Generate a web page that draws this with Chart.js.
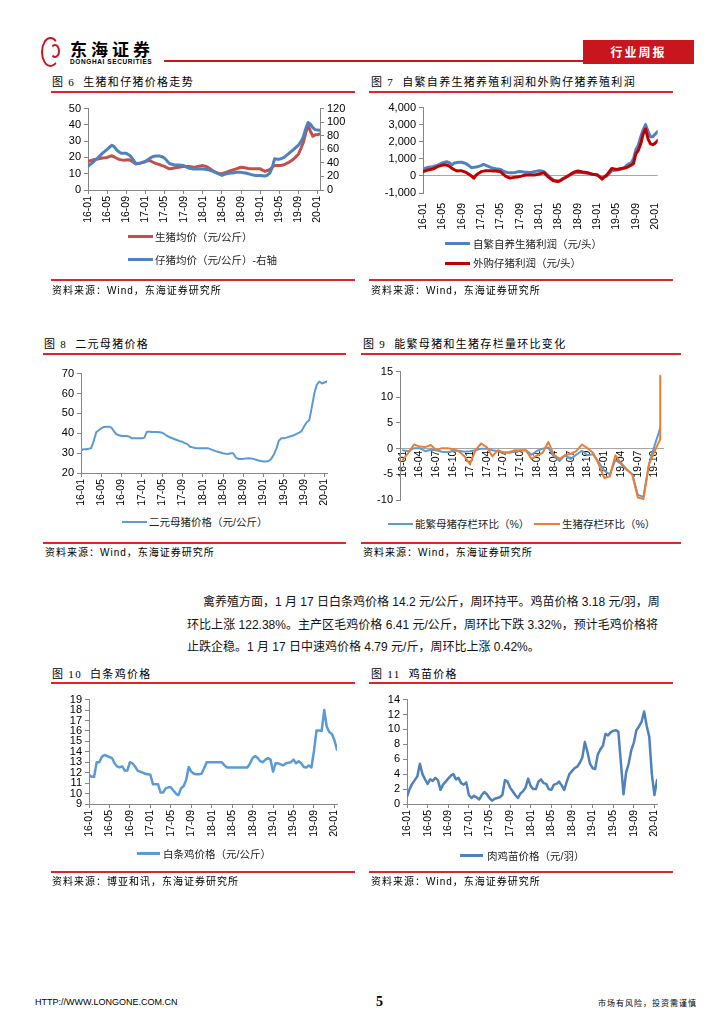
<!DOCTYPE html>
<html><head><meta charset="utf-8">
<script src="https://cdn.jsdelivr.net/npm/chart.js@4.4.1/dist/chart.umd.min.js"></script>
<style>
html,body{margin:0;padding:0;background:#fff}
body{width:724px;height:1024px;position:relative;overflow:hidden;font-family:"Liberation Sans","Noto Sans CJK SC",sans-serif;color:#000}
.a{position:absolute;white-space:nowrap}
.ttl{position:absolute;white-space:nowrap;font-size:11px;line-height:12px;letter-spacing:1.3px;font-family:"Liberation Serif","Noto Sans CJK SC",serif}
.src{position:absolute;white-space:nowrap;font-size:10px;line-height:11px;letter-spacing:1px;font-family:"Liberation Sans","Noto Sans CJK SC",sans-serif}
.lg{position:absolute;white-space:nowrap;font-size:10.5px;line-height:12px;font-family:"Liberation Sans","Noto Sans CJK SC",sans-serif;color:#222}
.rl{position:absolute;height:2px;background:#E0242B}
.ll{position:absolute;height:3px}
.cvw{position:absolute}
.p{position:absolute;white-space:nowrap;font-size:12px;line-height:14px;font-family:"Liberation Sans","Noto Sans CJK SC",sans-serif;color:#111}
</style></head><body>

<!-- header -->
<div class="a" style="left:41px;top:37px;width:15px;height:26px;border:2px solid #C9151E;border-radius:50%;border-right-color:transparent;"></div>
<div class="a" style="left:50px;top:44px;width:6px;height:10px;border:2px solid #C9151E;border-radius:50%;border-left-color:transparent;"></div>
<div class="a" style="left:70px;top:40px;font:bold 17px/18px 'Noto Sans CJK SC';letter-spacing:4px">东海证券</div>
<div class="a" style="left:70px;top:58px;font:bold 6.5px/7px 'Liberation Sans';letter-spacing:0.6px">DONGHAI SECURITIES</div>
<div class="a" style="left:164px;top:60px;width:419px;height:1.5px;background:#C9151E"></div>
<div class="a" style="left:583px;top:40px;width:111px;height:24px;background:#C9151E;color:#fff;font:bold 12px/24px 'Noto Sans CJK SC';text-align:center;letter-spacing:2px">行业周报</div>

<!-- chart 6 -->
<div class="ttl" style="left:52px;top:76px">图 6&nbsp; 生猪和仔猪价格走势</div>
<div class="rl" style="left:51px;top:91px;width:304px"></div>
<div class="cvw" style="left:40px;top:99px;width:320px;height:136px"><canvas id="c6"></canvas></div>
<div class="ll" style="left:128px;top:235px;width:25px;background:#C0504D"></div>
<div class="lg" style="left:155px;top:231px">生猪均价（元/公斤）</div>
<div class="ll" style="left:128px;top:258px;width:25px;background:#4F81BD"></div>
<div class="lg" style="left:155px;top:254px">仔猪均价（元/公斤）-右轴</div>
<div class="rl" style="left:51px;top:279px;width:304px"></div>
<div class="src" style="left:52px;top:285px">资料来源：Wind，东海证券研究所</div>

<!-- chart 7 -->
<div class="ttl" style="left:371px;top:76px">图 7&nbsp; 自繁自养生猪养殖利润和外购仔猪养殖利润</div>
<div class="rl" style="left:369px;top:91px;width:304px"></div>
<div class="cvw" style="left:360px;top:98px;width:310px;height:140px"><canvas id="c7"></canvas></div>
<div class="ll" style="left:445px;top:242px;width:25px;background:#4F81BD"></div>
<div class="lg" style="left:473px;top:238px">自繁自养生猪利润（元/头）</div>
<div class="ll" style="left:445px;top:262px;width:25px;background:#C00000"></div>
<div class="lg" style="left:473px;top:257px">外购仔猪利润（元/头）</div>
<div class="rl" style="left:369px;top:279px;width:304px"></div>
<div class="src" style="left:371px;top:285px">资料来源：Wind，东海证券研究所</div>

<!-- chart 8 -->
<div class="ttl" style="left:44px;top:338px">图 8&nbsp; 二元母猪价格</div>
<div class="rl" style="left:43px;top:353px;width:303px"></div>
<div class="cvw" style="left:40px;top:364px;width:300px;height:150px"><canvas id="c8"></canvas></div>
<div class="ll" style="left:122px;top:521px;width:25px;height:2px;background:#5B9BD5"></div>
<div class="lg" style="left:149px;top:516px">二元母猪价格（元/公斤）</div>
<div class="rl" style="left:43px;top:542px;width:303px"></div>
<div class="src" style="left:45px;top:547px">资料来源：Wind，东海证券研究所</div>

<!-- chart 9 -->
<div class="ttl" style="left:363px;top:338px">图 9&nbsp; 能繁母猪和生猪存栏量环比变化</div>
<div class="rl" style="left:361px;top:353px;width:320px"></div>
<div class="cvw" style="left:360px;top:362px;width:310px;height:148px"><canvas id="c9"></canvas></div>
<div class="ll" style="left:388px;top:523px;width:25px;height:2px;background:#5B9BD5"></div>
<div class="lg" style="left:415px;top:518px">能繁母猪存栏环比（%）</div>
<div class="ll" style="left:534px;top:523px;width:26px;height:2px;background:#ED7D31"></div>
<div class="lg" style="left:562px;top:518px">生猪存栏环比（%）</div>
<div class="rl" style="left:361px;top:542px;width:320px"></div>
<div class="src" style="left:363px;top:547px">资料来源：Wind，东海证券研究所</div>

<!-- paragraph -->
<div class="p" style="left:203px;top:595px;width:455px;text-align:justify;text-align-last:justify">禽养殖方面，1 月 17 日白条鸡价格 14.2 元/公斤，周环持平。鸡苗价格 3.18 元/羽，周</div>
<div class="p" style="left:187px;top:618px;width:471px;text-align:justify;text-align-last:justify">环比上涨 122.38%。主产区毛鸡价格 6.41 元/公斤，周环比下跌 3.32%，预计毛鸡价格将</div>
<div class="p" style="left:187px;top:640px">止跌企稳。1 月 17 日中速鸡价格 4.79 元/斤，周环比上涨 0.42%。</div>

<!-- chart 10 -->
<div class="ttl" style="left:52px;top:668px">图 10&nbsp; 白条鸡价格</div>
<div class="rl" style="left:51px;top:682px;width:304px"></div>
<div class="cvw" style="left:40px;top:690px;width:310px;height:160px"><canvas id="c10"></canvas></div>
<div class="ll" style="left:137px;top:852px;width:23px;background:#5B9BD5"></div>
<div class="lg" style="left:163px;top:848px">白条鸡价格（元/公斤）</div>
<div class="rl" style="left:51px;top:871px;width:304px"></div>
<div class="src" style="left:52px;top:876px">资料来源：博亚和讯，东海证券研究所</div>

<!-- chart 11 -->
<div class="ttl" style="left:371px;top:668px">图 11&nbsp; 鸡苗价格</div>
<div class="rl" style="left:369px;top:682px;width:304px"></div>
<div class="cvw" style="left:360px;top:690px;width:310px;height:160px"><canvas id="c11"></canvas></div>
<div class="ll" style="left:460px;top:854px;width:23px;background:#4F81BD"></div>
<div class="lg" style="left:487px;top:850px">肉鸡苗价格（元/羽）</div>
<div class="rl" style="left:369px;top:871px;width:304px"></div>
<div class="src" style="left:371px;top:876px">资料来源：Wind，东海证券研究所</div>

<!-- footer -->
<div class="a" style="left:35px;top:997px;font:9px/10px 'Liberation Sans'">HTTP://WWW.LONGONE.COM.CN</div>
<div class="a" style="left:376px;top:994px;font:bold 14px/15px 'Liberation Serif'">5</div>
<div class="a" style="left:598px;top:998px;font:8px/9px 'Noto Sans CJK SC';letter-spacing:1px">市场有风险，投资需谨慎</div>

<script>
// ---------- data ----------
const monthTicks = ['16-01','16-05','16-09','17-01','17-05','17-09','18-01','18-05','18-09','19-01','19-05','19-09','20-01'];

// semi-monthly series, 2016-01 .. 2020-01 (second half)
const hogPrice = [
 17.5,18,18.5,18.8,19,19.3,19.7,19.8,20,20.6,
 21,20.3,19.5,18.8,18.5,18.3,18.5,18.6,18,17,
 16,16.2,16.5,17,17.5,18,18,17.2,16.5,16,
 15.5,15,14.5,13.7,13,13.2,13.5,13.8,14,14.3,
 14.5,14.5,14.5,14.3,14,14.2,14.5,14.8,15,14.6,
 14,13,12,11.2,10.5,10.2,10,10.5,11,11.5,
 12,12.5,13,13.5,14,13.8,13.5,13.2,13,13,
 13,13,13,12.2,11.5,12,12.5,14,15,15,
 15,15.2,15.5,16.3,17,18,19,20.5,22,25.5,
 29,35,40,36,33,34,34,34.5];
const pigletPrice = [
 35,38,40.6,44,47,50.5,54,57,60,63,
 66,63.6,59,56,54,54,54,52,49,44,
 39,39.5,40,41,42,44.5,47,49,50,50,
 50,49,47,43,39,38,37,37,37,36.5,
 36,34,32.5,31.5,31,31,31,31,31,30.5,
 30,29,28,26.5,25,23,21.5,23,24,24.5,
 25,25.5,26,26,26,25.5,25,24,23,22,
 21.5,21.5,21.5,21,20.5,22,25,33,46,45.5,
 45.5,46.5,48,51,54,57,60,63,66,71,
 78,90,99.5,97,92,89,88.5,88];
const selfProfit = [
 400,450,500,520,540,580,620,690,760,800,
 830,760,650,760,790,800,800,760,700,600,
 480,500,520,560,600,680,620,560,500,450,
 420,400,380,300,230,200,180,190,200,240,
 260,240,220,210,200,220,250,280,300,290,
 250,120,0,-150,-250,-280,-300,-250,-150,-80,
 0,80,150,180,200,200,200,170,150,120,
 100,80,50,-50,-100,-50,0,150,300,330,
 350,380,400,450,600,700,750,1000,1550,1800,
 2300,2700,3000,2600,2300,2300,2450,2600];
const buyProfit = [
 250,300,350,380,400,470,540,590,630,650,
 630,550,440,360,290,300,300,250,190,100,
 0,-130,60,150,250,280,300,300,300,290,
 290,270,250,120,0,-80,-130,-100,-80,-60,
 -40,0,40,50,60,60,60,80,110,150,
 190,50,-80,-200,-290,-310,-330,-250,-150,-80,
 0,100,190,250,290,260,230,210,190,140,
 100,80,60,-60,-190,-50,60,250,440,410,
 380,410,440,460,480,550,630,730,1300,1500,
 1880,2460,2750,2170,1880,1830,1920,2080];
const sowPrice = [
 31.2,32,32,32.2,32.5,36,40.5,41.5,42.5,43.2,
 43.3,43.3,42.8,41,39.5,39,38.6,38.6,38.6,38.3,
 37.5,37.5,37.5,37.5,37.5,37.8,40.8,40.8,40.6,40.6,
 40.6,40.5,40.3,39.5,38.6,38,37.5,37,36.5,36,
 35.7,35,34.5,33.2,32.9,32.6,32.5,32.5,32.5,32.5,
 32.5,32,31.5,31,30.7,30.3,29.9,29.7,29.6,29.9,
 29.9,27.9,27.1,27.1,27.1,27.3,27.4,27.3,27.1,26.7,
 26.3,26,25.8,25.8,26,27.1,29.2,32,36.2,37.5,
 37.5,37.8,38.2,38.6,39,39.7,40.3,41.1,43.5,45.5,
 46.5,53,60,64.5,66,65,65.5,66];
const broilerPrice = [
 11.8,11.6,11.6,13,13,13.5,13.7,13.6,13.5,13.4,
 12.9,12.6,12.5,12.6,12.2,12.2,13,12.9,12.6,12.2,
 12.1,12,11.9,11.85,11.8,10.9,10.9,10.9,10.1,10.1,
 10.5,10.6,10.6,10.3,10,9.85,10.5,10.7,11.3,12.55,
 12.1,11.9,11.85,11.85,11.9,12.4,13,13,13,13,
 13,13,13,12.7,12.5,12.5,12.5,12.5,12.5,12.5,
 12.5,12.5,12.5,12.9,13.4,13.6,13.4,13.1,13,13.25,
 13.4,13.25,12.1,12.9,12.9,12.8,12.7,12.9,12.95,13,
 13.25,12.9,13.1,12.9,12.55,12.5,12.7,12.5,14.1,16.05,
 16.05,16,18,16.4,15.9,15.7,15.1,14.2];
const chickPrice = [
 1.0,2.0,2.7,3.2,3.7,5.4,4.0,3.3,2.7,3.3,
 3.1,3.5,3.2,1.9,2.6,3.0,3.4,3.8,4.0,3.3,
 3.5,2.8,2.6,2.9,1.2,0.8,1.1,0.9,0.6,1.2,
 1.6,1.3,0.8,0.45,0.7,0.8,0.9,1.2,3.2,3.0,
 2.2,1.7,1.2,0.8,1.4,1.7,2.2,3.4,2.4,2.0,
 2.0,3.0,3.3,2.8,2.7,2.0,1.9,2.6,2.7,3.0,
 2.5,1.9,3.0,4.0,4.4,4.8,5.0,5.5,6.2,8.3,
 7.0,5.4,4.8,4.7,6.6,7.3,7.8,9.4,9.2,9.6,
 9.8,9.9,9.7,5.5,1.3,4.2,5.4,7.2,8.2,9.9,
 10.4,11.0,12.4,10.5,9.0,4.0,1.2,3.2];

// monthly, 2016-01 .. 2019-11
const monthLabels9 = [
 '16-01','16-02','16-03','16-04','16-05','16-06','16-07','16-08','16-09','16-10','16-11','16-12',
 '17-01','17-02','17-03','17-04','17-05','17-06','17-07','17-08','17-09','17-10','17-11','17-12',
 '18-01','18-02','18-03','18-04','18-05','18-06','18-07','18-08','18-09','18-10','18-11','18-12',
 '19-01','19-02','19-03','19-04','19-05','19-06','19-07','19-08','19-09','19-10','19-11'];
const sowChg = [
 -0.3,-0.5,0.1,0.1,-0.5,-0.2,-0.3,-0.6,-0.7,-0.4,
 -0.4,-0.6,-0.5,-0.3,0,0,-0.3,-0.5,-0.7,-0.8,
 -0.6,-0.4,-0.3,-1.2,-0.4,0,0.2,-1.5,-2.4,-1.3,
 -2.0,-1.2,-0.4,-1.3,-1.1,-2.6,-4.3,-5.0,-2.2,-3.0,
 -4.1,-5.0,-9.0,-9.4,-3.0,0.6,4.0];
const hogChg = [
 -2.2,-0.8,0.8,0.4,0.3,0.7,-0.3,0.1,0.1,-0.1,
 -0.5,-1.5,-3.0,-0.3,1.0,0.3,-1.5,-0.3,-0.8,-0.7,
 -0.3,-0.3,-0.3,-2.0,-1.3,-0.8,1.3,-1.2,-2.0,-1.3,
 -1.0,-0.5,0.8,0.1,-0.8,-3.0,-5.7,-5.4,-1.3,-2.8,
 -4.0,-5.0,-9.5,-9.8,-3.0,-0.5,1.8,14.2];

// ---------- helpers ----------
Chart.defaults.font.family = "'Liberation Sans', Arial, sans-serif";
Chart.defaults.font.size = 11;
Chart.defaults.color = '#000';
Chart.defaults.animation = false;
const AX = '#868686';
const semi = arr => arr.map((v,i)=>({x:i/2, y:v}));
function line(data, color, w, axis){
  const d = {data, borderColor:color, borderWidth:w, pointRadius:0, tension:0, fill:false, borderJoinStyle:'round', borderCapStyle:'round'};
  if(axis) d.yAxisID = axis;
  return d;
}
function monthAxis(h){
  return {type:'linear', min:0, max:48.5,
    border:{display:true,color:AX},
    grid:{display:true, drawOnChartArea:false, drawTicks:true, tickLength:4, color:AX},
    ticks:{stepSize:4, includeBounds:false, autoSkip:false, maxRotation:90, minRotation:90, padding:2, font:{size:10.5},
      callback:v=>monthTicks[Math.round(v/4)]},
    afterFit:s=>{s.height=h;}};
}
function yAx(min,max,step,w,pos,cb){
  return {type:'linear', position:pos||'left', min, max,
    border:{display:true,color:AX},
    grid:{drawOnChartArea:false, drawTicks:true, tickLength:4, color:AX},
    ticks:{stepSize:step, autoSkip:false, padding:3, font:{size:11}, callback:cb||(v=>v)},
    afterFit:s=>{s.width=w;}};
}
function base(scales, pad){
  return {responsive:true, maintainAspectRatio:false, animation:false, layout:{padding:pad},
    plugins:{legend:{display:false}, tooltip:{enabled:false}}, scales};
}

// chart 6
new Chart(document.getElementById('c6'), {type:'line',
  data:{datasets:[line(semi(pigletPrice),'#4F81BD',3,'y2'), line(semi(hogPrice),'#C0504D',3,'y')]},
  options:base({x:monthAxis(45), y:yAx(0,50,10,48,'left'), y2:yAx(0,120,20,40,'right')},{top:8,right:0,bottom:0,left:0})});

// chart 7
const y7 = yAx(-1000,4000,1000,63,'left',v=>v.toLocaleString('en-US'));
y7.grid = {drawOnChartArea:true, drawTicks:true, tickLength:4, tickColor:AX,
  color:c=> (c.tick && c.tick.value===0) ? '#A6A6A6' : 'rgba(0,0,0,0)'};
const x7 = monthAxis(45); x7.border = {display:false}; x7.grid = {display:false};
new Chart(document.getElementById('c7'), {type:'line',
  data:{datasets:[line(semi(buyProfit),'#C00000',3), line(semi(selfProfit),'#4F81BD',3)]},
  options:base({x:x7, y:y7},{top:8,right:11,bottom:0,left:0})});

// chart 8
new Chart(document.getElementById('c8'), {type:'line',
  data:{datasets:[line(semi(sowPrice),'#5B9BD5',2)]},
  options:base({x:monthAxis(41), y:yAx(20,70,10,41,'left')},{top:8,right:13,bottom:0,left:0})});

// chart 9
const hogChgPts = hogChg.map((v,i)=>({x:monthLabels9[Math.min(i,monthLabels9.length-1)], y:v}));
const sowChgPts = sowChg.map((v,i)=>({x:monthLabels9[i], y:v}));
new Chart(document.getElementById('c9'), {type:'line',
  data:{labels:monthLabels9, datasets:[line(hogChgPts,'#ED7D31',2), line(sowChgPts,'#5B9BD5',2)]},
  options:base({
    x:{type:'category', offset:true, position:{y:0},
       border:{display:true,color:'#A6A6A6'},
       grid:{display:true, drawOnChartArea:false, drawTicks:false, offset:true},
       ticks:{autoSkip:false, maxRotation:90, minRotation:90, padding:2, font:{size:10.5},
         callback:(v,i)=> i%3===0 ? monthLabels9[i] : null}},
    y:yAx(-10,15,5,40,'left')},{top:9,right:7,bottom:10,left:0})});

// chart 10
new Chart(document.getElementById('c10'), {type:'line',
  data:{datasets:[line(semi(broilerPrice),'#5B9BD5',2.5)]},
  options:base({x:monthAxis(46), y:yAx(9,19,1,49,'left')},{top:9,right:13,bottom:0,left:0})});

// chart 11
new Chart(document.getElementById('c11'), {type:'line',
  data:{datasets:[line(semi(chickPrice),'#4F81BD',2.5)]},
  options:base({x:monthAxis(46), y:yAx(0,14,2,47,'left')},{top:8,right:13,bottom:0,left:0})});
</script>
</body></html>
